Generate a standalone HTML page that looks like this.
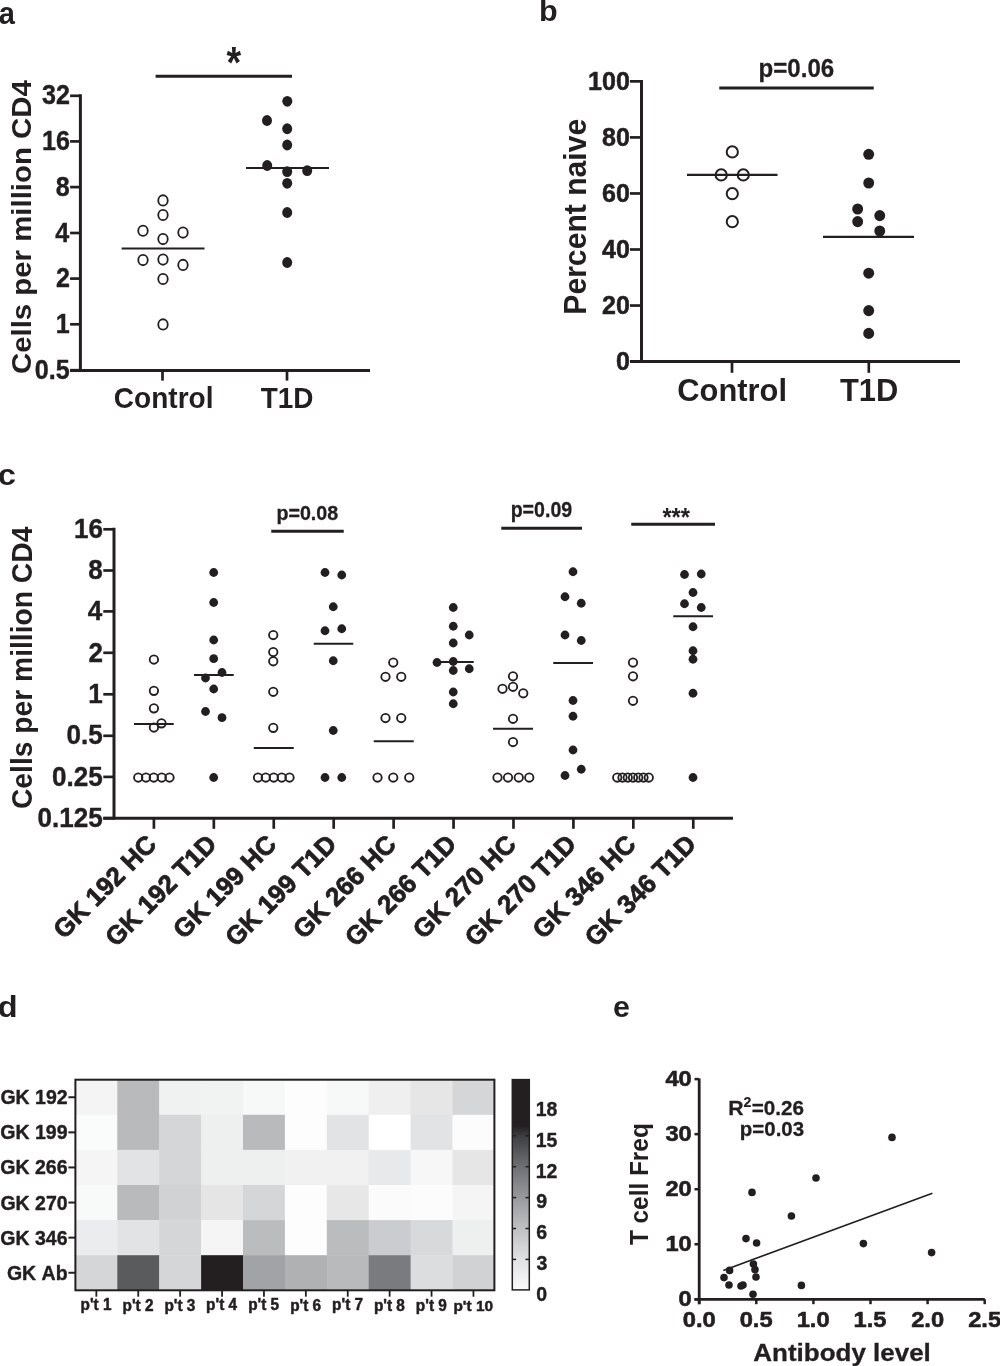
<!DOCTYPE html>
<html><head><meta charset="utf-8"><style>
html,body{margin:0;padding:0;background:#fff;}
svg{display:block;will-change:transform;}
text{font-family:"Liberation Sans",sans-serif;font-weight:bold;fill:#231f20;font-kerning:none;stroke:#231f20;stroke-width:0;stroke-linejoin:round;}
line{stroke:#231f20;}
.d{fill:#231f20;}
.o{fill:none;stroke:#231f20;}
rect.b{stroke:#231f20;}
</style></head><body>
<svg width="1000" height="1366" viewBox="0 0 1000 1366">
<rect x="0" y="0" width="1000" height="1366" fill="#fff"/>
<text transform="translate(-1.35,24.20) scale(0.9313,1)" font-size="31.21">a</text>
<line x1="80.40" y1="94.30" x2="80.40" y2="371.80" stroke-width="3.0"/>
<line x1="70.10" y1="370.40" x2="370.00" y2="370.40" stroke-width="3.0"/>
<line x1="70.10" y1="95.80" x2="80.40" y2="95.80" stroke-width="2.7"/>
<text transform="translate(42.08,104.47) scale(0.9300,1)" font-size="27.00" style="stroke-width:0.4px">32</text>
<line x1="70.10" y1="141.40" x2="80.40" y2="141.40" stroke-width="2.7"/>
<text transform="translate(41.98,150.09) scale(0.9300,1)" font-size="27.00" style="stroke-width:0.4px">16</text>
<line x1="70.10" y1="187.10" x2="80.40" y2="187.10" stroke-width="2.7"/>
<text transform="translate(55.81,195.79) scale(0.9300,1)" font-size="27.00" style="stroke-width:0.4px">8</text>
<line x1="70.10" y1="233.00" x2="80.40" y2="233.00" stroke-width="2.7"/>
<text transform="translate(55.17,241.69) scale(0.9300,1)" font-size="27.00" style="stroke-width:0.4px">4</text>
<line x1="70.10" y1="278.60" x2="80.40" y2="278.60" stroke-width="2.7"/>
<text transform="translate(56.04,287.43) scale(0.9300,1)" font-size="27.00" style="stroke-width:0.4px">2</text>
<line x1="70.10" y1="324.30" x2="80.40" y2="324.30" stroke-width="2.7"/>
<text transform="translate(55.73,332.99) scale(0.9300,1)" font-size="27.00" style="stroke-width:0.4px">1</text>
<line x1="70.10" y1="370.20" x2="80.40" y2="370.20" stroke-width="2.7"/>
<text transform="translate(34.79,378.89) scale(0.9300,1)" font-size="27.00" style="stroke-width:0.4px">0.5</text>
<line x1="162.50" y1="370.00" x2="162.50" y2="380.60" stroke-width="2.7"/>
<line x1="287.00" y1="370.00" x2="287.00" y2="380.60" stroke-width="2.7"/>
<text transform="translate(113.85,408.32) scale(0.9709,1)" font-size="28.87">Control</text>
<text transform="translate(260.69,408.20) scale(0.9423,1)" font-size="29.65">T1D</text>
<text transform="translate(30.80,374.01) rotate(-90) scale(1.0542,1)" font-size="27.88">Cells per million CD4</text>
<line x1="155.60" y1="76.20" x2="292.00" y2="76.20" stroke-width="3.1"/>
<text transform="translate(226.39,77.55) scale(0.8618,1)" font-size="43.67">*</text>
<ellipse cx="163.00" cy="200.40" rx="4.75" ry="5.15" class="o" stroke-width="1.8"/>
<ellipse cx="163.00" cy="215.00" rx="4.75" ry="5.15" class="o" stroke-width="1.8"/>
<ellipse cx="143.00" cy="230.70" rx="4.75" ry="5.15" class="o" stroke-width="1.8"/>
<ellipse cx="183.00" cy="232.60" rx="4.75" ry="5.15" class="o" stroke-width="1.8"/>
<ellipse cx="163.00" cy="239.10" rx="4.75" ry="5.15" class="o" stroke-width="1.8"/>
<ellipse cx="143.00" cy="260.10" rx="4.75" ry="5.15" class="o" stroke-width="1.8"/>
<ellipse cx="163.00" cy="259.60" rx="4.75" ry="5.15" class="o" stroke-width="1.8"/>
<ellipse cx="183.00" cy="264.90" rx="4.75" ry="5.15" class="o" stroke-width="1.8"/>
<ellipse cx="163.00" cy="279.00" rx="4.75" ry="5.15" class="o" stroke-width="1.8"/>
<ellipse cx="163.00" cy="324.40" rx="4.75" ry="5.15" class="o" stroke-width="1.8"/>
<ellipse cx="287.30" cy="101.30" rx="5.0" ry="5.4" class="d"/>
<ellipse cx="267.00" cy="120.50" rx="5.0" ry="5.4" class="d"/>
<ellipse cx="287.20" cy="128.75" rx="5.0" ry="5.4" class="d"/>
<ellipse cx="287.20" cy="145.00" rx="5.0" ry="5.4" class="d"/>
<ellipse cx="267.20" cy="165.50" rx="5.0" ry="5.4" class="d"/>
<ellipse cx="287.20" cy="171.60" rx="5.0" ry="5.4" class="d"/>
<ellipse cx="307.20" cy="170.60" rx="5.0" ry="5.4" class="d"/>
<ellipse cx="287.20" cy="183.30" rx="5.0" ry="5.4" class="d"/>
<ellipse cx="287.20" cy="212.50" rx="5.0" ry="5.4" class="d"/>
<ellipse cx="287.20" cy="262.50" rx="5.0" ry="5.4" class="d"/>
<line x1="121.60" y1="248.50" x2="204.50" y2="248.50" stroke-width="2.2"/>
<line x1="246.00" y1="168.00" x2="329.00" y2="168.00" stroke-width="2.2"/>
<text transform="translate(538.99,21.31) scale(1.0202,1)" font-size="29.96">b</text>
<line x1="641.50" y1="79.90" x2="641.50" y2="363.00" stroke-width="3.0"/>
<line x1="630.00" y1="361.60" x2="960.00" y2="361.60" stroke-width="3.0"/>
<line x1="630.00" y1="361.60" x2="641.50" y2="361.60" stroke-width="2.7"/>
<text transform="translate(615.94,369.95) scale(0.9750,1)" font-size="25.70" style="stroke-width:0.5px">0</text>
<line x1="630.00" y1="305.55" x2="641.50" y2="305.55" stroke-width="2.7"/>
<text transform="translate(602.01,313.90) scale(0.9750,1)" font-size="25.70" style="stroke-width:0.5px">20</text>
<line x1="630.00" y1="249.50" x2="641.50" y2="249.50" stroke-width="2.7"/>
<text transform="translate(602.01,257.85) scale(0.9750,1)" font-size="25.70" style="stroke-width:0.5px">40</text>
<line x1="630.00" y1="193.46" x2="641.50" y2="193.46" stroke-width="2.7"/>
<text transform="translate(602.01,201.80) scale(0.9750,1)" font-size="25.70" style="stroke-width:0.5px">60</text>
<line x1="630.00" y1="137.41" x2="641.50" y2="137.41" stroke-width="2.7"/>
<text transform="translate(602.01,145.75) scale(0.9750,1)" font-size="25.70" style="stroke-width:0.5px">80</text>
<line x1="630.00" y1="81.36" x2="641.50" y2="81.36" stroke-width="2.7"/>
<text transform="translate(588.07,89.71) scale(0.9750,1)" font-size="25.70" style="stroke-width:0.5px">100</text>
<line x1="732.00" y1="361.00" x2="732.00" y2="372.80" stroke-width="2.7"/>
<line x1="868.80" y1="361.00" x2="868.80" y2="372.80" stroke-width="2.7"/>
<text transform="translate(677.33,401.29) scale(0.9858,1)" font-size="31.32">Control</text>
<text transform="translate(839.95,401.20) scale(0.9658,1)" font-size="31.98">T1D</text>
<text transform="translate(585.50,314.72) rotate(-90) scale(0.9795,1)" font-size="30.78">Percent naive</text>
<line x1="719.25" y1="88.00" x2="873.75" y2="88.00" stroke-width="3.1"/>
<text transform="translate(758.56,76.60) scale(0.9369,1)" font-size="25.71" style="stroke-width:0.3px">p=0.06</text>
<ellipse cx="732.30" cy="151.90" rx="5.6" ry="5.6" class="o" stroke-width="2.0"/>
<ellipse cx="721.20" cy="174.90" rx="5.6" ry="5.6" class="o" stroke-width="2.0"/>
<ellipse cx="743.30" cy="174.90" rx="5.6" ry="5.6" class="o" stroke-width="2.0"/>
<ellipse cx="732.30" cy="193.70" rx="5.6" ry="5.6" class="o" stroke-width="2.0"/>
<ellipse cx="732.30" cy="221.70" rx="5.6" ry="5.6" class="o" stroke-width="2.0"/>
<ellipse cx="868.70" cy="154.30" rx="5.45" ry="5.55" class="d"/>
<ellipse cx="868.70" cy="183.00" rx="5.45" ry="5.55" class="d"/>
<ellipse cx="857.65" cy="209.00" rx="5.45" ry="5.55" class="d"/>
<ellipse cx="857.65" cy="221.60" rx="5.45" ry="5.55" class="d"/>
<ellipse cx="879.75" cy="215.60" rx="5.45" ry="5.55" class="d"/>
<ellipse cx="879.75" cy="231.00" rx="5.45" ry="5.55" class="d"/>
<ellipse cx="868.70" cy="273.20" rx="5.45" ry="5.55" class="d"/>
<ellipse cx="868.70" cy="310.60" rx="5.45" ry="5.55" class="d"/>
<ellipse cx="868.70" cy="333.40" rx="5.45" ry="5.55" class="d"/>
<line x1="687.00" y1="174.90" x2="777.50" y2="174.90" stroke-width="2.2"/>
<line x1="823.00" y1="236.90" x2="914.00" y2="236.90" stroke-width="2.2"/>
<text transform="translate(-2.28,484.91) scale(1.1093,1)" font-size="29.57">c</text>
<line x1="114.00" y1="527.80" x2="114.00" y2="819.60" stroke-width="3.0"/>
<line x1="103.30" y1="818.20" x2="733.00" y2="818.20" stroke-width="3.0"/>
<line x1="103.30" y1="529.30" x2="114.00" y2="529.30" stroke-width="2.7"/>
<text transform="translate(73.96,537.99) scale(0.9650,1)" font-size="27.00" style="stroke-width:0.4px">16</text>
<line x1="103.30" y1="570.50" x2="114.00" y2="570.50" stroke-width="2.7"/>
<text transform="translate(88.31,579.19) scale(0.9650,1)" font-size="27.00" style="stroke-width:0.4px">8</text>
<line x1="103.30" y1="611.40" x2="114.00" y2="611.40" stroke-width="2.7"/>
<text transform="translate(87.65,620.09) scale(0.9650,1)" font-size="27.00" style="stroke-width:0.4px">4</text>
<line x1="103.30" y1="652.80" x2="114.00" y2="652.80" stroke-width="2.7"/>
<text transform="translate(88.55,661.63) scale(0.9650,1)" font-size="27.00" style="stroke-width:0.4px">2</text>
<line x1="103.30" y1="694.30" x2="114.00" y2="694.30" stroke-width="2.7"/>
<text transform="translate(88.23,702.99) scale(0.9650,1)" font-size="27.00" style="stroke-width:0.4px">1</text>
<line x1="103.30" y1="735.80" x2="114.00" y2="735.80" stroke-width="2.7"/>
<text transform="translate(66.51,744.49) scale(0.9650,1)" font-size="27.00" style="stroke-width:0.4px">0.5</text>
<line x1="103.30" y1="776.90" x2="114.00" y2="776.90" stroke-width="2.7"/>
<text transform="translate(52.01,785.59) scale(0.9650,1)" font-size="27.00" style="stroke-width:0.4px">0.25</text>
<line x1="103.30" y1="818.20" x2="114.00" y2="818.20" stroke-width="2.7"/>
<text transform="translate(37.52,826.89) scale(0.9650,1)" font-size="27.00" style="stroke-width:0.4px">0.125</text>
<line x1="153.90" y1="818.00" x2="153.90" y2="828.80" stroke-width="2.7"/>
<line x1="213.83" y1="818.00" x2="213.83" y2="828.80" stroke-width="2.7"/>
<line x1="273.76" y1="818.00" x2="273.76" y2="828.80" stroke-width="2.7"/>
<line x1="333.69" y1="818.00" x2="333.69" y2="828.80" stroke-width="2.7"/>
<line x1="393.62" y1="818.00" x2="393.62" y2="828.80" stroke-width="2.7"/>
<line x1="453.55" y1="818.00" x2="453.55" y2="828.80" stroke-width="2.7"/>
<line x1="513.48" y1="818.00" x2="513.48" y2="828.80" stroke-width="2.7"/>
<line x1="573.41" y1="818.00" x2="573.41" y2="828.80" stroke-width="2.7"/>
<line x1="633.34" y1="818.00" x2="633.34" y2="828.80" stroke-width="2.7"/>
<line x1="693.27" y1="818.00" x2="693.27" y2="828.80" stroke-width="2.7"/>
<text transform="translate(63.93,939.97) rotate(-45) scale(0.9900,1)" font-size="26.00" style="stroke-width:0.8px">GK 192 HC</text>
<text transform="translate(116.03,947.80) rotate(-45) scale(0.9900,1)" font-size="26.00" style="stroke-width:0.8px">GK 192 T1D</text>
<text transform="translate(183.79,939.97) rotate(-45) scale(0.9900,1)" font-size="26.00" style="stroke-width:0.8px">GK 199 HC</text>
<text transform="translate(235.89,947.80) rotate(-45) scale(0.9900,1)" font-size="26.00" style="stroke-width:0.8px">GK 199 T1D</text>
<text transform="translate(303.65,939.97) rotate(-45) scale(0.9900,1)" font-size="26.00" style="stroke-width:0.8px">GK 266 HC</text>
<text transform="translate(355.75,947.80) rotate(-45) scale(0.9900,1)" font-size="26.00" style="stroke-width:0.8px">GK 266 T1D</text>
<text transform="translate(423.51,939.97) rotate(-45) scale(0.9900,1)" font-size="26.00" style="stroke-width:0.8px">GK 270 HC</text>
<text transform="translate(475.61,947.80) rotate(-45) scale(0.9900,1)" font-size="26.00" style="stroke-width:0.8px">GK 270 T1D</text>
<text transform="translate(543.37,939.97) rotate(-45) scale(0.9900,1)" font-size="26.00" style="stroke-width:0.8px">GK 346 HC</text>
<text transform="translate(595.47,947.80) rotate(-45) scale(0.9900,1)" font-size="26.00" style="stroke-width:0.8px">GK 346 T1D</text>
<text transform="translate(32.20,809.06) rotate(-90) scale(0.9650,1)" font-size="29.26">Cells per million CD4</text>
<line x1="271.25" y1="531.25" x2="343.75" y2="531.25" stroke-width="3.1"/>
<text transform="translate(276.45,520.20) scale(0.9507,1)" font-size="20.69" style="stroke-width:0.3px">p=0.08</text>
<line x1="501.25" y1="528.25" x2="582.00" y2="528.25" stroke-width="3.1"/>
<text transform="translate(510.66,516.80) scale(0.9209,1)" font-size="21.27" style="stroke-width:0.3px">p=0.09</text>
<line x1="631.25" y1="524.25" x2="715.00" y2="524.25" stroke-width="3.1"/>
<text transform="translate(662.43,525.57) scale(0.9256,1)" font-size="25.53">***</text>
<ellipse cx="153.90" cy="659.50" rx="4.2" ry="4.2" class="o" stroke-width="1.85"/>
<ellipse cx="153.90" cy="690.80" rx="4.2" ry="4.2" class="o" stroke-width="1.85"/>
<ellipse cx="153.90" cy="708.30" rx="4.2" ry="4.2" class="o" stroke-width="1.85"/>
<ellipse cx="153.90" cy="727.50" rx="4.2" ry="4.2" class="o" stroke-width="1.85"/>
<ellipse cx="161.50" cy="723.30" rx="4.2" ry="4.2" class="o" stroke-width="1.85"/>
<ellipse cx="138.25" cy="777.50" rx="4.2" ry="4.2" class="o" stroke-width="1.85"/>
<ellipse cx="146.00" cy="777.50" rx="4.2" ry="4.2" class="o" stroke-width="1.85"/>
<ellipse cx="153.75" cy="777.50" rx="4.2" ry="4.2" class="o" stroke-width="1.85"/>
<ellipse cx="161.75" cy="777.50" rx="4.2" ry="4.2" class="o" stroke-width="1.85"/>
<ellipse cx="169.50" cy="777.50" rx="4.2" ry="4.2" class="o" stroke-width="1.85"/>
<ellipse cx="273.25" cy="635.00" rx="4.2" ry="4.2" class="o" stroke-width="1.85"/>
<ellipse cx="273.25" cy="652.00" rx="4.2" ry="4.2" class="o" stroke-width="1.85"/>
<ellipse cx="273.25" cy="661.25" rx="4.2" ry="4.2" class="o" stroke-width="1.85"/>
<ellipse cx="273.25" cy="691.75" rx="4.2" ry="4.2" class="o" stroke-width="1.85"/>
<ellipse cx="273.25" cy="727.80" rx="4.2" ry="4.2" class="o" stroke-width="1.85"/>
<ellipse cx="258.00" cy="777.50" rx="4.2" ry="4.2" class="o" stroke-width="1.85"/>
<ellipse cx="265.75" cy="777.50" rx="4.2" ry="4.2" class="o" stroke-width="1.85"/>
<ellipse cx="273.75" cy="777.50" rx="4.2" ry="4.2" class="o" stroke-width="1.85"/>
<ellipse cx="281.75" cy="777.50" rx="4.2" ry="4.2" class="o" stroke-width="1.85"/>
<ellipse cx="289.50" cy="777.50" rx="4.2" ry="4.2" class="o" stroke-width="1.85"/>
<ellipse cx="393.25" cy="662.50" rx="4.2" ry="4.2" class="o" stroke-width="1.85"/>
<ellipse cx="385.50" cy="676.75" rx="4.2" ry="4.2" class="o" stroke-width="1.85"/>
<ellipse cx="401.25" cy="676.75" rx="4.2" ry="4.2" class="o" stroke-width="1.85"/>
<ellipse cx="385.50" cy="718.00" rx="4.2" ry="4.2" class="o" stroke-width="1.85"/>
<ellipse cx="401.25" cy="718.00" rx="4.2" ry="4.2" class="o" stroke-width="1.85"/>
<ellipse cx="377.50" cy="777.50" rx="4.2" ry="4.2" class="o" stroke-width="1.85"/>
<ellipse cx="393.25" cy="777.50" rx="4.2" ry="4.2" class="o" stroke-width="1.85"/>
<ellipse cx="409.25" cy="777.50" rx="4.2" ry="4.2" class="o" stroke-width="1.85"/>
<ellipse cx="513.00" cy="676.25" rx="4.2" ry="4.2" class="o" stroke-width="1.85"/>
<ellipse cx="502.50" cy="688.75" rx="4.2" ry="4.2" class="o" stroke-width="1.85"/>
<ellipse cx="513.00" cy="686.75" rx="4.2" ry="4.2" class="o" stroke-width="1.85"/>
<ellipse cx="523.25" cy="693.25" rx="4.2" ry="4.2" class="o" stroke-width="1.85"/>
<ellipse cx="513.00" cy="718.75" rx="4.2" ry="4.2" class="o" stroke-width="1.85"/>
<ellipse cx="513.00" cy="742.00" rx="4.2" ry="4.2" class="o" stroke-width="1.85"/>
<ellipse cx="497.50" cy="777.50" rx="4.2" ry="4.2" class="o" stroke-width="1.85"/>
<ellipse cx="508.00" cy="777.50" rx="4.2" ry="4.2" class="o" stroke-width="1.85"/>
<ellipse cx="518.75" cy="777.50" rx="4.2" ry="4.2" class="o" stroke-width="1.85"/>
<ellipse cx="529.25" cy="777.50" rx="4.2" ry="4.2" class="o" stroke-width="1.85"/>
<ellipse cx="633.00" cy="662.50" rx="4.2" ry="4.2" class="o" stroke-width="1.85"/>
<ellipse cx="633.00" cy="676.25" rx="4.2" ry="4.2" class="o" stroke-width="1.85"/>
<ellipse cx="633.00" cy="700.75" rx="4.2" ry="4.2" class="o" stroke-width="1.85"/>
<ellipse cx="617.25" cy="777.50" rx="4.2" ry="4.2" class="o" stroke-width="1.85"/>
<ellipse cx="622.50" cy="777.50" rx="4.2" ry="4.2" class="o" stroke-width="1.85"/>
<ellipse cx="627.75" cy="777.50" rx="4.2" ry="4.2" class="o" stroke-width="1.85"/>
<ellipse cx="633.00" cy="777.50" rx="4.2" ry="4.2" class="o" stroke-width="1.85"/>
<ellipse cx="638.25" cy="777.50" rx="4.2" ry="4.2" class="o" stroke-width="1.85"/>
<ellipse cx="643.50" cy="777.50" rx="4.2" ry="4.2" class="o" stroke-width="1.85"/>
<ellipse cx="648.75" cy="777.50" rx="4.2" ry="4.2" class="o" stroke-width="1.85"/>
<ellipse cx="213.70" cy="572.50" rx="4.4" ry="4.4" class="d"/>
<ellipse cx="213.70" cy="602.50" rx="4.4" ry="4.4" class="d"/>
<ellipse cx="213.70" cy="640.00" rx="4.4" ry="4.4" class="d"/>
<ellipse cx="213.70" cy="658.70" rx="4.4" ry="4.4" class="d"/>
<ellipse cx="222.00" cy="672.50" rx="4.4" ry="4.4" class="d"/>
<ellipse cx="205.50" cy="678.00" rx="4.4" ry="4.4" class="d"/>
<ellipse cx="213.70" cy="689.00" rx="4.4" ry="4.4" class="d"/>
<ellipse cx="205.50" cy="711.50" rx="4.4" ry="4.4" class="d"/>
<ellipse cx="222.00" cy="717.70" rx="4.4" ry="4.4" class="d"/>
<ellipse cx="213.70" cy="777.50" rx="4.4" ry="4.4" class="d"/>
<ellipse cx="325.00" cy="572.50" rx="4.4" ry="4.4" class="d"/>
<ellipse cx="341.75" cy="575.00" rx="4.4" ry="4.4" class="d"/>
<ellipse cx="333.25" cy="606.75" rx="4.4" ry="4.4" class="d"/>
<ellipse cx="325.00" cy="630.75" rx="4.4" ry="4.4" class="d"/>
<ellipse cx="341.75" cy="628.75" rx="4.4" ry="4.4" class="d"/>
<ellipse cx="333.25" cy="660.75" rx="4.4" ry="4.4" class="d"/>
<ellipse cx="333.25" cy="730.50" rx="4.4" ry="4.4" class="d"/>
<ellipse cx="325.00" cy="777.50" rx="4.4" ry="4.4" class="d"/>
<ellipse cx="341.75" cy="777.50" rx="4.4" ry="4.4" class="d"/>
<ellipse cx="453.25" cy="607.50" rx="4.4" ry="4.4" class="d"/>
<ellipse cx="453.25" cy="626.25" rx="4.4" ry="4.4" class="d"/>
<ellipse cx="469.25" cy="635.00" rx="4.4" ry="4.4" class="d"/>
<ellipse cx="453.25" cy="643.00" rx="4.4" ry="4.4" class="d"/>
<ellipse cx="437.00" cy="662.50" rx="4.4" ry="4.4" class="d"/>
<ellipse cx="453.25" cy="661.50" rx="4.4" ry="4.4" class="d"/>
<ellipse cx="453.25" cy="670.50" rx="4.4" ry="4.4" class="d"/>
<ellipse cx="469.25" cy="668.75" rx="4.4" ry="4.4" class="d"/>
<ellipse cx="453.25" cy="692.00" rx="4.4" ry="4.4" class="d"/>
<ellipse cx="453.25" cy="703.75" rx="4.4" ry="4.4" class="d"/>
<ellipse cx="573.00" cy="571.75" rx="4.4" ry="4.4" class="d"/>
<ellipse cx="565.00" cy="596.75" rx="4.4" ry="4.4" class="d"/>
<ellipse cx="581.25" cy="603.25" rx="4.4" ry="4.4" class="d"/>
<ellipse cx="565.00" cy="635.00" rx="4.4" ry="4.4" class="d"/>
<ellipse cx="581.25" cy="640.50" rx="4.4" ry="4.4" class="d"/>
<ellipse cx="573.00" cy="700.50" rx="4.4" ry="4.4" class="d"/>
<ellipse cx="573.00" cy="716.25" rx="4.4" ry="4.4" class="d"/>
<ellipse cx="573.00" cy="750.00" rx="4.4" ry="4.4" class="d"/>
<ellipse cx="581.25" cy="769.25" rx="4.4" ry="4.4" class="d"/>
<ellipse cx="565.00" cy="775.50" rx="4.4" ry="4.4" class="d"/>
<ellipse cx="684.50" cy="574.50" rx="4.4" ry="4.4" class="d"/>
<ellipse cx="701.25" cy="574.00" rx="4.4" ry="4.4" class="d"/>
<ellipse cx="693.00" cy="592.50" rx="4.4" ry="4.4" class="d"/>
<ellipse cx="684.50" cy="603.75" rx="4.4" ry="4.4" class="d"/>
<ellipse cx="701.25" cy="607.50" rx="4.4" ry="4.4" class="d"/>
<ellipse cx="693.00" cy="626.75" rx="4.4" ry="4.4" class="d"/>
<ellipse cx="693.00" cy="650.75" rx="4.4" ry="4.4" class="d"/>
<ellipse cx="693.00" cy="659.25" rx="4.4" ry="4.4" class="d"/>
<ellipse cx="693.00" cy="693.25" rx="4.4" ry="4.4" class="d"/>
<ellipse cx="693.00" cy="777.50" rx="4.4" ry="4.4" class="d"/>
<line x1="134.00" y1="724.00" x2="173.70" y2="724.00" stroke-width="2.2"/>
<line x1="194.00" y1="675.00" x2="233.75" y2="675.00" stroke-width="2.2"/>
<line x1="253.75" y1="748.00" x2="293.75" y2="748.00" stroke-width="2.2"/>
<line x1="313.75" y1="643.75" x2="353.25" y2="643.75" stroke-width="2.2"/>
<line x1="373.75" y1="741.25" x2="413.75" y2="741.25" stroke-width="2.2"/>
<line x1="433.50" y1="662.00" x2="473.75" y2="662.00" stroke-width="2.2"/>
<line x1="493.00" y1="728.75" x2="533.00" y2="728.75" stroke-width="2.2"/>
<line x1="553.25" y1="663.00" x2="593.00" y2="663.00" stroke-width="2.2"/>
<line x1="673.25" y1="616.25" x2="713.00" y2="616.25" stroke-width="2.2"/>
<text transform="translate(-2.33,1017.11) scale(1.1065,1)" font-size="29.41">d</text>
<rect x="75.40" y="1079.70" width="42.30" height="35.50" fill="#f4f4f4"/>
<rect x="117.30" y="1079.70" width="42.30" height="35.50" fill="#b9babc"/>
<rect x="159.20" y="1079.70" width="42.30" height="35.50" fill="#f0f1f1"/>
<rect x="201.10" y="1079.70" width="42.30" height="35.50" fill="#f1f2f2"/>
<rect x="243.00" y="1079.70" width="42.30" height="35.50" fill="#f7f8f8"/>
<rect x="284.90" y="1079.70" width="42.30" height="35.50" fill="#fdfdfd"/>
<rect x="326.80" y="1079.70" width="42.30" height="35.50" fill="#f7f9f8"/>
<rect x="368.70" y="1079.70" width="42.30" height="35.50" fill="#eeefee"/>
<rect x="410.60" y="1079.70" width="42.30" height="35.50" fill="#e6e6e6"/>
<rect x="452.50" y="1079.70" width="42.30" height="35.50" fill="#d5d6d8"/>
<rect x="75.40" y="1114.80" width="42.30" height="35.50" fill="#fafbfb"/>
<rect x="117.30" y="1114.80" width="42.30" height="35.50" fill="#b9babc"/>
<rect x="159.20" y="1114.80" width="42.30" height="35.50" fill="#d5d6d8"/>
<rect x="201.10" y="1114.80" width="42.30" height="35.50" fill="#eef0ef"/>
<rect x="243.00" y="1114.80" width="42.30" height="35.50" fill="#b9babc"/>
<rect x="284.90" y="1114.80" width="42.30" height="35.50" fill="#fdfdfd"/>
<rect x="326.80" y="1114.80" width="42.30" height="35.50" fill="#e2e3e5"/>
<rect x="368.70" y="1114.80" width="42.30" height="35.50" fill="#ffffff"/>
<rect x="410.60" y="1114.80" width="42.30" height="35.50" fill="#e2e3e5"/>
<rect x="452.50" y="1114.80" width="42.30" height="35.50" fill="#fcfcfc"/>
<rect x="75.40" y="1149.90" width="42.30" height="35.50" fill="#f5f5f5"/>
<rect x="117.30" y="1149.90" width="42.30" height="35.50" fill="#e2e3e5"/>
<rect x="159.20" y="1149.90" width="42.30" height="35.50" fill="#d5d6d8"/>
<rect x="201.10" y="1149.90" width="42.30" height="35.50" fill="#eef0ef"/>
<rect x="243.00" y="1149.90" width="42.30" height="35.50" fill="#eef0ef"/>
<rect x="284.90" y="1149.90" width="42.30" height="35.50" fill="#f1f1f1"/>
<rect x="326.80" y="1149.90" width="42.30" height="35.50" fill="#f1f1f1"/>
<rect x="368.70" y="1149.90" width="42.30" height="35.50" fill="#e8e9eb"/>
<rect x="410.60" y="1149.90" width="42.30" height="35.50" fill="#f7f7f7"/>
<rect x="452.50" y="1149.90" width="42.30" height="35.50" fill="#e6e6e6"/>
<rect x="75.40" y="1185.00" width="42.30" height="35.50" fill="#f8faf9"/>
<rect x="117.30" y="1185.00" width="42.30" height="35.50" fill="#b9babc"/>
<rect x="159.20" y="1185.00" width="42.30" height="35.50" fill="#d1d2d4"/>
<rect x="201.10" y="1185.00" width="42.30" height="35.50" fill="#e5e5e5"/>
<rect x="243.00" y="1185.00" width="42.30" height="35.50" fill="#d5d6d8"/>
<rect x="284.90" y="1185.00" width="42.30" height="35.50" fill="#fdfdfd"/>
<rect x="326.80" y="1185.00" width="42.30" height="35.50" fill="#e7e7e7"/>
<rect x="368.70" y="1185.00" width="42.30" height="35.50" fill="#fbfbfb"/>
<rect x="410.60" y="1185.00" width="42.30" height="35.50" fill="#fcfcfc"/>
<rect x="452.50" y="1185.00" width="42.30" height="35.50" fill="#f5f5f5"/>
<rect x="75.40" y="1220.10" width="42.30" height="35.50" fill="#ebecee"/>
<rect x="117.30" y="1220.10" width="42.30" height="35.50" fill="#e2e3e5"/>
<rect x="159.20" y="1220.10" width="42.30" height="35.50" fill="#d5d6d8"/>
<rect x="201.10" y="1220.10" width="42.30" height="35.50" fill="#f5f5f5"/>
<rect x="243.00" y="1220.10" width="42.30" height="35.50" fill="#bbbcbe"/>
<rect x="284.90" y="1220.10" width="42.30" height="35.50" fill="#fdfdfd"/>
<rect x="326.80" y="1220.10" width="42.30" height="35.50" fill="#bbbcbe"/>
<rect x="368.70" y="1220.10" width="42.30" height="35.50" fill="#cbcccf"/>
<rect x="410.60" y="1220.10" width="42.30" height="35.50" fill="#d8d9db"/>
<rect x="452.50" y="1220.10" width="42.30" height="35.50" fill="#eef0ef"/>
<rect x="75.40" y="1255.20" width="42.30" height="35.50" fill="#d5d6d8"/>
<rect x="117.30" y="1255.20" width="42.30" height="35.50" fill="#5a5b5d"/>
<rect x="159.20" y="1255.20" width="42.30" height="35.50" fill="#d5d6d8"/>
<rect x="201.10" y="1255.20" width="42.30" height="35.50" fill="#231f20"/>
<rect x="243.00" y="1255.20" width="42.30" height="35.50" fill="#a2a3a7"/>
<rect x="284.90" y="1255.20" width="42.30" height="35.50" fill="#b0b1b3"/>
<rect x="326.80" y="1255.20" width="42.30" height="35.50" fill="#b9babc"/>
<rect x="368.70" y="1255.20" width="42.30" height="35.50" fill="#7a7b7f"/>
<rect x="410.60" y="1255.20" width="42.30" height="35.50" fill="#dcdddf"/>
<rect x="452.50" y="1255.20" width="42.30" height="35.50" fill="#d1d2d4"/>
<rect class="b" x="75.4" y="1079.7" width="419.00" height="210.60" fill="none" stroke-width="2.0"/>
<line x1="68.40" y1="1097.25" x2="75.40" y2="1097.25" stroke-width="2.0"/>
<text transform="translate(0.38,1104.23) scale(0.9750,1)" font-size="20.00" style="stroke-width:0.4px">GK 192</text>
<line x1="68.40" y1="1132.35" x2="75.40" y2="1132.35" stroke-width="2.0"/>
<text transform="translate(0.32,1139.33) scale(0.9750,1)" font-size="20.00" style="stroke-width:0.4px">GK 199</text>
<line x1="68.40" y1="1167.45" x2="75.40" y2="1167.45" stroke-width="2.0"/>
<text transform="translate(0.30,1174.43) scale(0.9750,1)" font-size="20.00" style="stroke-width:0.4px">GK 266</text>
<line x1="68.40" y1="1202.55" x2="75.40" y2="1202.55" stroke-width="2.0"/>
<text transform="translate(0.40,1209.53) scale(0.9750,1)" font-size="20.00" style="stroke-width:0.4px">GK 270</text>
<line x1="68.40" y1="1237.65" x2="75.40" y2="1237.65" stroke-width="2.0"/>
<text transform="translate(0.30,1244.62) scale(0.9750,1)" font-size="20.00" style="stroke-width:0.4px">GK 346</text>
<line x1="68.40" y1="1272.75" x2="75.40" y2="1272.75" stroke-width="2.0"/>
<text transform="translate(6.94,1280.00) scale(0.9750,1)" font-size="20.00" style="stroke-width:0.4px">GK Ab</text>
<line x1="96.35" y1="1290.30" x2="96.35" y2="1296.70" stroke-width="1.8"/>
<text transform="translate(80.59,1310.48) scale(0.9749,1)" font-size="15.75" style="stroke-width:0.5px">p't 1</text>
<line x1="138.25" y1="1290.30" x2="138.25" y2="1296.70" stroke-width="1.8"/>
<text transform="translate(122.58,1310.52) scale(0.9859,1)" font-size="15.57" style="stroke-width:0.5px">p't 2</text>
<line x1="180.15" y1="1290.30" x2="180.15" y2="1296.70" stroke-width="1.8"/>
<text transform="translate(164.45,1310.52) scale(0.9859,1)" font-size="15.57" style="stroke-width:0.5px">p't 3</text>
<line x1="222.05" y1="1290.30" x2="222.05" y2="1296.70" stroke-width="1.8"/>
<text transform="translate(206.11,1310.48) scale(0.9750,1)" font-size="15.75" style="stroke-width:0.5px">p't 4</text>
<line x1="263.95" y1="1290.30" x2="263.95" y2="1296.70" stroke-width="1.8"/>
<text transform="translate(248.19,1310.48) scale(0.9749,1)" font-size="15.75" style="stroke-width:0.5px">p't 5</text>
<line x1="305.85" y1="1290.30" x2="305.85" y2="1296.70" stroke-width="1.8"/>
<text transform="translate(290.15,1310.52) scale(0.9859,1)" font-size="15.57" style="stroke-width:0.5px">p't 6</text>
<line x1="347.75" y1="1290.30" x2="347.75" y2="1296.70" stroke-width="1.8"/>
<text transform="translate(332.11,1310.48) scale(0.9747,1)" font-size="15.75" style="stroke-width:0.5px">p't 7</text>
<line x1="389.65" y1="1290.30" x2="389.65" y2="1296.70" stroke-width="1.8"/>
<text transform="translate(373.91,1310.52) scale(0.9860,1)" font-size="15.57" style="stroke-width:0.5px">p't 8</text>
<line x1="431.55" y1="1290.30" x2="431.55" y2="1296.70" stroke-width="1.8"/>
<text transform="translate(415.86,1310.52) scale(0.9859,1)" font-size="15.57" style="stroke-width:0.5px">p't 9</text>
<line x1="473.45" y1="1290.30" x2="473.45" y2="1296.70" stroke-width="1.8"/>
<text transform="translate(453.45,1310.52) scale(0.9894,1)" font-size="15.57" style="stroke-width:0.5px">p't 10</text>
<defs><linearGradient id="cb" x1="0" y1="1" x2="0" y2="0"><stop offset="0" stop-color="#fafafa"/><stop offset="0.147" stop-color="#e0e1e3"/><stop offset="0.293" stop-color="#bfc0c2"/><stop offset="0.44" stop-color="#98999d"/><stop offset="0.587" stop-color="#6e6f73"/><stop offset="0.733" stop-color="#3d3e40"/><stop offset="0.78" stop-color="#231f20"/><stop offset="1" stop-color="#231f20"/></linearGradient></defs>
<rect class="b" x="512.3" y="1079.6" width="17.00" height="210.30" fill="url(#cb)" stroke-width="1.5"/>
<text transform="translate(536.23,1301.19) scale(0.9600,1)" font-size="20.30" style="stroke-width:0.4px">0</text>
<line x1="512.30" y1="1259.40" x2="516.10" y2="1259.40" stroke-width="1.5"/>
<line x1="525.50" y1="1259.40" x2="529.30" y2="1259.40" stroke-width="1.5"/>
<text transform="translate(536.55,1270.27) scale(0.9600,1)" font-size="20.30" style="stroke-width:0.4px">3</text>
<line x1="512.30" y1="1228.50" x2="516.10" y2="1228.50" stroke-width="1.5"/>
<line x1="525.50" y1="1228.50" x2="529.30" y2="1228.50" stroke-width="1.5"/>
<text transform="translate(536.29,1239.39) scale(0.9600,1)" font-size="20.30" style="stroke-width:0.4px">6</text>
<line x1="512.30" y1="1197.60" x2="516.10" y2="1197.60" stroke-width="1.5"/>
<line x1="525.50" y1="1197.60" x2="529.30" y2="1197.60" stroke-width="1.5"/>
<text transform="translate(536.32,1208.49) scale(0.9600,1)" font-size="20.30" style="stroke-width:0.4px">9</text>
<line x1="512.30" y1="1166.70" x2="516.10" y2="1166.70" stroke-width="1.5"/>
<line x1="525.50" y1="1166.70" x2="529.30" y2="1166.70" stroke-width="1.5"/>
<text transform="translate(535.77,1177.69) scale(0.9600,1)" font-size="20.30" style="stroke-width:0.4px">12</text>
<line x1="512.30" y1="1135.80" x2="516.10" y2="1135.80" stroke-width="1.5"/>
<line x1="525.50" y1="1135.80" x2="529.30" y2="1135.80" stroke-width="1.5"/>
<text transform="translate(535.77,1146.58) scale(0.9600,1)" font-size="20.30" style="stroke-width:0.4px">15</text>
<text transform="translate(535.77,1115.79) scale(0.9600,1)" font-size="20.30" style="stroke-width:0.4px">18</text>
<text transform="translate(613.11,1017.31) scale(1.0107,1)" font-size="30.12">e</text>
<line x1="699.20" y1="1078.50" x2="699.20" y2="1304.20" stroke-width="2.8"/>
<line x1="694.50" y1="1299.30" x2="984.80" y2="1299.30" stroke-width="2.8"/>
<line x1="694.50" y1="1299.30" x2="699.20" y2="1299.30" stroke-width="2.5"/>
<text transform="translate(678.62,1306.38) scale(1.0600,1)" font-size="22.30" style="stroke-width:0.6px">0</text>
<line x1="694.50" y1="1244.25" x2="699.20" y2="1244.25" stroke-width="2.5"/>
<text transform="translate(665.48,1251.33) scale(1.0600,1)" font-size="22.30" style="stroke-width:0.6px">10</text>
<line x1="694.50" y1="1189.20" x2="699.20" y2="1189.20" stroke-width="2.5"/>
<text transform="translate(665.48,1196.28) scale(1.0600,1)" font-size="22.30" style="stroke-width:0.6px">20</text>
<line x1="694.50" y1="1134.15" x2="699.20" y2="1134.15" stroke-width="2.5"/>
<text transform="translate(665.48,1141.21) scale(1.0600,1)" font-size="22.30" style="stroke-width:0.6px">30</text>
<line x1="694.50" y1="1079.10" x2="699.20" y2="1079.10" stroke-width="2.5"/>
<text transform="translate(665.48,1086.18) scale(1.0600,1)" font-size="22.30" style="stroke-width:0.6px">40</text>
<line x1="699.20" y1="1299.30" x2="699.20" y2="1304.20" stroke-width="2.5"/>
<text transform="translate(682.74,1326.65) scale(1.0400,1)" font-size="22.80" style="stroke-width:0.6px">0.0</text>
<line x1="756.30" y1="1299.30" x2="756.30" y2="1304.20" stroke-width="2.5"/>
<text transform="translate(739.68,1326.65) scale(1.0400,1)" font-size="22.80" style="stroke-width:0.6px">0.5</text>
<line x1="813.40" y1="1299.30" x2="813.40" y2="1304.20" stroke-width="2.5"/>
<text transform="translate(796.66,1326.65) scale(1.0400,1)" font-size="22.80" style="stroke-width:0.6px">1.0</text>
<line x1="870.50" y1="1299.30" x2="870.50" y2="1304.20" stroke-width="2.5"/>
<text transform="translate(853.60,1326.53) scale(1.0400,1)" font-size="22.80" style="stroke-width:0.6px">1.5</text>
<line x1="927.60" y1="1299.30" x2="927.60" y2="1304.20" stroke-width="2.5"/>
<text transform="translate(911.19,1326.65) scale(1.0400,1)" font-size="22.80" style="stroke-width:0.6px">2.0</text>
<line x1="984.70" y1="1299.30" x2="984.70" y2="1304.20" stroke-width="2.5"/>
<text transform="translate(968.14,1326.65) scale(1.0400,1)" font-size="22.80" style="stroke-width:0.6px">2.5</text>
<text transform="translate(753.30,1360.60) scale(1.0668,1)" font-size="24.36" style="stroke-width:0.3px">Antibody level</text>
<text transform="translate(647.80,1245.07) rotate(-90) scale(0.9394,1)" font-size="25.95">T cell Freq</text>
<text transform="translate(728.23,1114.65) scale(1.0451,1)" font-size="20.35" style="stroke-width:0.3px">R</text>
<text transform="translate(743.61,1106.90) scale(0.9862,1)" font-size="14.32" style="stroke-width:0.2px">2</text>
<text transform="translate(751.79,1114.60) scale(1.0201,1)" font-size="20.27" style="stroke-width:0.3px">=0.26</text>
<text transform="translate(739.80,1136.40) scale(1.0244,1)" font-size="19.98" style="stroke-width:0.3px">p=0.03</text>
<ellipse cx="752.00" cy="1192.40" rx="3.8" ry="3.8" class="d"/>
<ellipse cx="816.00" cy="1178.00" rx="3.8" ry="3.8" class="d"/>
<ellipse cx="791.40" cy="1216.00" rx="3.8" ry="3.8" class="d"/>
<ellipse cx="746.00" cy="1238.60" rx="3.8" ry="3.8" class="d"/>
<ellipse cx="756.60" cy="1243.00" rx="3.8" ry="3.8" class="d"/>
<ellipse cx="753.40" cy="1264.00" rx="3.8" ry="3.8" class="d"/>
<ellipse cx="755.00" cy="1269.60" rx="3.8" ry="3.8" class="d"/>
<ellipse cx="756.00" cy="1277.00" rx="3.8" ry="3.8" class="d"/>
<ellipse cx="729.60" cy="1270.40" rx="3.8" ry="3.8" class="d"/>
<ellipse cx="724.00" cy="1277.60" rx="3.8" ry="3.8" class="d"/>
<ellipse cx="729.00" cy="1285.00" rx="3.8" ry="3.8" class="d"/>
<ellipse cx="741.00" cy="1286.00" rx="3.8" ry="3.8" class="d"/>
<ellipse cx="743.00" cy="1285.00" rx="3.8" ry="3.8" class="d"/>
<ellipse cx="753.00" cy="1294.20" rx="3.8" ry="3.8" class="d"/>
<ellipse cx="801.40" cy="1285.40" rx="3.8" ry="3.8" class="d"/>
<ellipse cx="892.00" cy="1137.40" rx="3.8" ry="3.8" class="d"/>
<ellipse cx="863.40" cy="1243.60" rx="3.8" ry="3.8" class="d"/>
<ellipse cx="931.60" cy="1252.60" rx="3.8" ry="3.8" class="d"/>
<line x1="723.30" y1="1270.50" x2="932.40" y2="1193.20" stroke-width="1.7"/>
</svg></body></html>
